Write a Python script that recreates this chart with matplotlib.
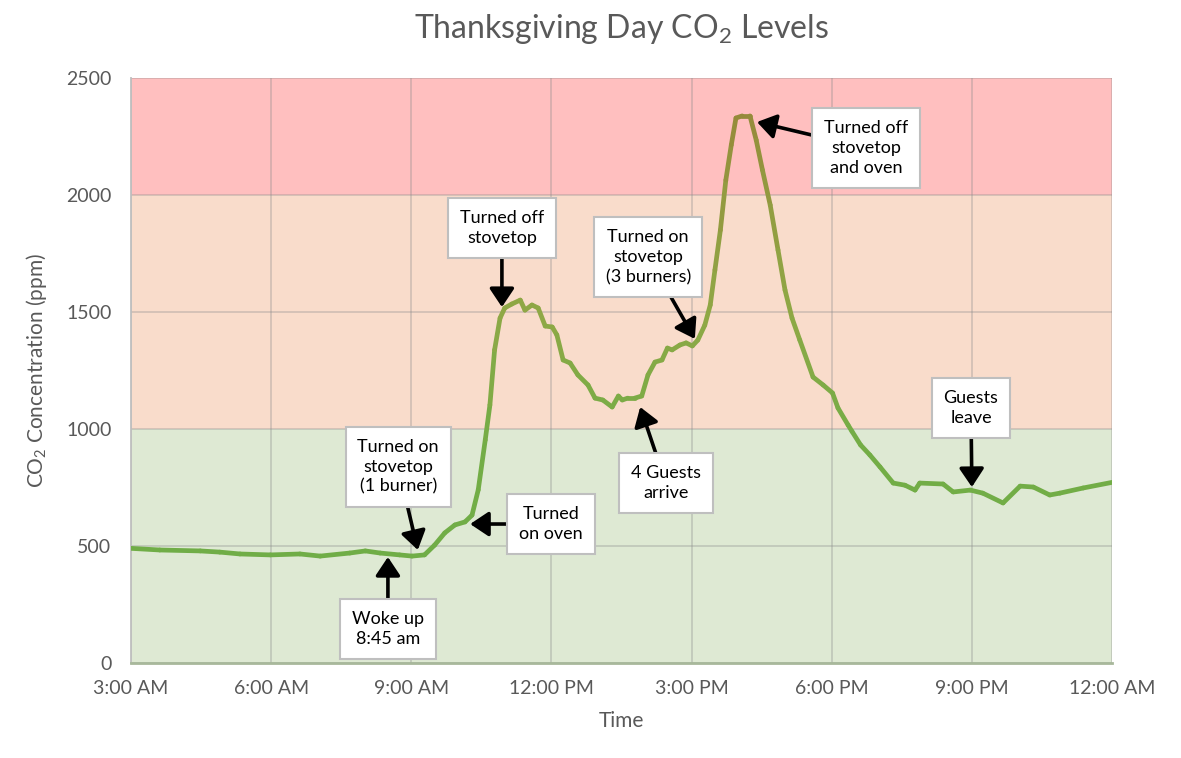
import numpy as np
import matplotlib
matplotlib.use("Agg")
from matplotlib import pyplot as plt
from matplotlib.collections import LineCollection
from matplotlib.colors import LinearSegmentedColormap, Normalize

plt.rcParams['font.family'] = ['Lato', 'DejaVu Sans']
plt.rcParams['mathtext.default'] = 'regular'

# readings (time of day, ppm)
times = ['03:00', '03:37', '04:29', '04:54', '05:20', '05:59', '06:37', '07:03',
         '07:41', '08:01', '08:20', '08:45', '09:01', '09:17', '09:30', '09:43',
         '09:56', '10:09', '10:18', '10:26', '10:35', '10:41', '10:47', '10:54',
         '11:00', '11:09', '11:20', '11:26', '11:35', '11:43', '11:52', '12:01',
         '12:07', '12:15', '12:24', '12:34', '12:47', '12:56', '13:06', '13:18',
         '13:26', '13:31', '13:38', '13:47', '13:56', '14:04', '14:13', '14:22',
         '14:29', '14:35', '14:45', '14:53', '15:01', '15:08', '15:17', '15:24',
         '15:30', '15:37', '15:44', '15:51', '15:57', '16:05', '16:15', '16:23',
         '16:31', '16:41', '16:51', '17:00', '17:09', '17:19', '17:36', '17:49',
         '18:01', '18:08', '18:21', '18:26', '18:37', '18:49', '19:02', '19:19',
         '19:34', '19:47', '19:53', '20:23', '20:36', '20:58', '21:14', '21:40',
         '22:02', '22:19', '22:40', '22:53', '23:23', '24:00']
ppm = [490, 483, 479, 474, 466, 462, 466, 457,
       470, 479, 470, 462, 457, 462, 504, 556,
       590, 603, 632, 740, 953, 1103, 1338, 1474,
       1517, 1534, 1551, 1508, 1530, 1517, 1440, 1436,
       1402, 1295, 1282, 1231, 1188, 1132, 1124, 1094,
       1141, 1124, 1132, 1132, 1141, 1231, 1286, 1295,
       1346, 1338, 1359, 1368, 1355, 1380, 1444, 1530,
       1680, 1850, 2064, 2214, 2329, 2338, 2338, 2235,
       2107, 1957, 1765, 1594, 1474, 1380, 1222, 1188,
       1154, 1090, 1017, 990, 932, 889, 838, 769,
       760, 739, 769, 765, 731, 739, 726, 684,
       756, 752, 718, 726, 748, 772]

tick_hours = [3, 6, 9, 12, 15, 18, 21, 24]
tick_labels = ['3:00 AM', '6:00 AM', '9:00 AM', '12:00 PM',
               '3:00 PM', '6:00 PM', '9:00 PM', '12:00 AM']

# (text, arrow tip time, tip ppm, text time, text ppm)
notes = [
    ('Woke up\n8:45 am', 8.50, 453, 8.50, 145),
    ('Turned on\nstovetop\n(1 burner)', 9.14, 483, 8.72, 838),
    ('Turned\non oven', 10.26, 594, 11.99, 594),
    ('Turned off\nstovetop', 10.94, 1521, 10.94, 1859),
    ('Turned on\nstovetop\n(3 burners)', 15.07, 1385, 14.07, 1735),
    ('4 Guests\narrive', 13.90, 1094, 14.45, 769),
    ('Turned off\nstovetop\nand oven', 16.40, 2312, 18.74, 2201),
    ('Guests\nleave', 21.00, 752, 20.98, 1090),
]

def to_hours(t):
    h, m = t.split(':')
    return int(h) + int(m) / 60.0

x = np.array([to_hours(t) for t in times])
y = np.array(ppm, dtype=float)

fig = plt.figure(figsize=(11.81, 7.58), dpi=100)
ax = fig.add_axes([0.1109, 0.1253, 0.8307, 0.7718])

# background zones
ax.axhspan(0, 1000, color='#dee9d3', zorder=0, lw=0)
ax.axhspan(1000, 2000, color='#f9dccb', zorder=0, lw=0)
ax.axhspan(2000, 2500, color='#ffbfbf', zorder=0, lw=0)

ax.set_xlim(3, 24)
ax.set_ylim(0, 2500)
ax.set_xticks(tick_hours)
ax.set_xticklabels(tick_labels)
ax.set_yticks(range(0, 2501, 500))
ax.grid(True, color='#8c8c8c', alpha=0.35, lw=1.3, zorder=1)
ax.set_axisbelow(True)
ax.tick_params(length=0, labelsize=14, labelcolor='#595959')
ax.tick_params(axis='y', pad=14)
ax.tick_params(axis='x', pad=12)

for s in ['top', 'right']:
    ax.spines[s].set_visible(False)
ax.spines['left'].set_color('#bfbfbf')
ax.spines['left'].set_linewidth(1.3)
ax.spines['bottom'].set_color('#a8b89b')
ax.spines['bottom'].set_linewidth(2)

# line coloured by level
cmap = LinearSegmentedColormap.from_list('co2', [
    (0.0, '#70ad47'), (0.27, '#74ad46'), (0.55, '#8fa846'),
    (0.82, '#939a40'), (1.0, '#958a3a')])
norm = Normalize(450, 2340)
pts = np.column_stack([x, y]).reshape(-1, 1, 2)
segs = np.concatenate([pts[:-1], pts[1:]], axis=1)
lc = LineCollection(segs, colors=cmap(norm((y[:-1] + y[1:]) / 2)),
                    linewidths=3.4, capstyle='round', joinstyle='round', zorder=3)
ax.add_collection(lc)

for txt, tx, ty, bx, by in notes:
    ax.annotate(txt, xy=(tx, ty), xytext=(bx, by), ha='center', va='center',
                fontsize=13, color='black', linespacing=1.3, zorder=5,
                bbox=dict(boxstyle='square,pad=0.65', fc='white', ec='#bfbfbf', lw=1.5),
                arrowprops=dict(arrowstyle='-|>,head_length=0.75,head_width=0.5',
                                color='black', lw=2.6, shrinkA=0, shrinkB=0,
                                mutation_scale=15))

ax.set_title('Thanksgiving Day CO$_2$ Levels', fontsize=23, color='#595959', pad=29)
ax.set_xlabel('Time', fontsize=15, color='#595959', labelpad=10)
ax.set_ylabel('CO$_2$ Concentration (ppm)', fontsize=15, color='#595959', labelpad=12)

fig.savefig('out.png', dpi=100)
